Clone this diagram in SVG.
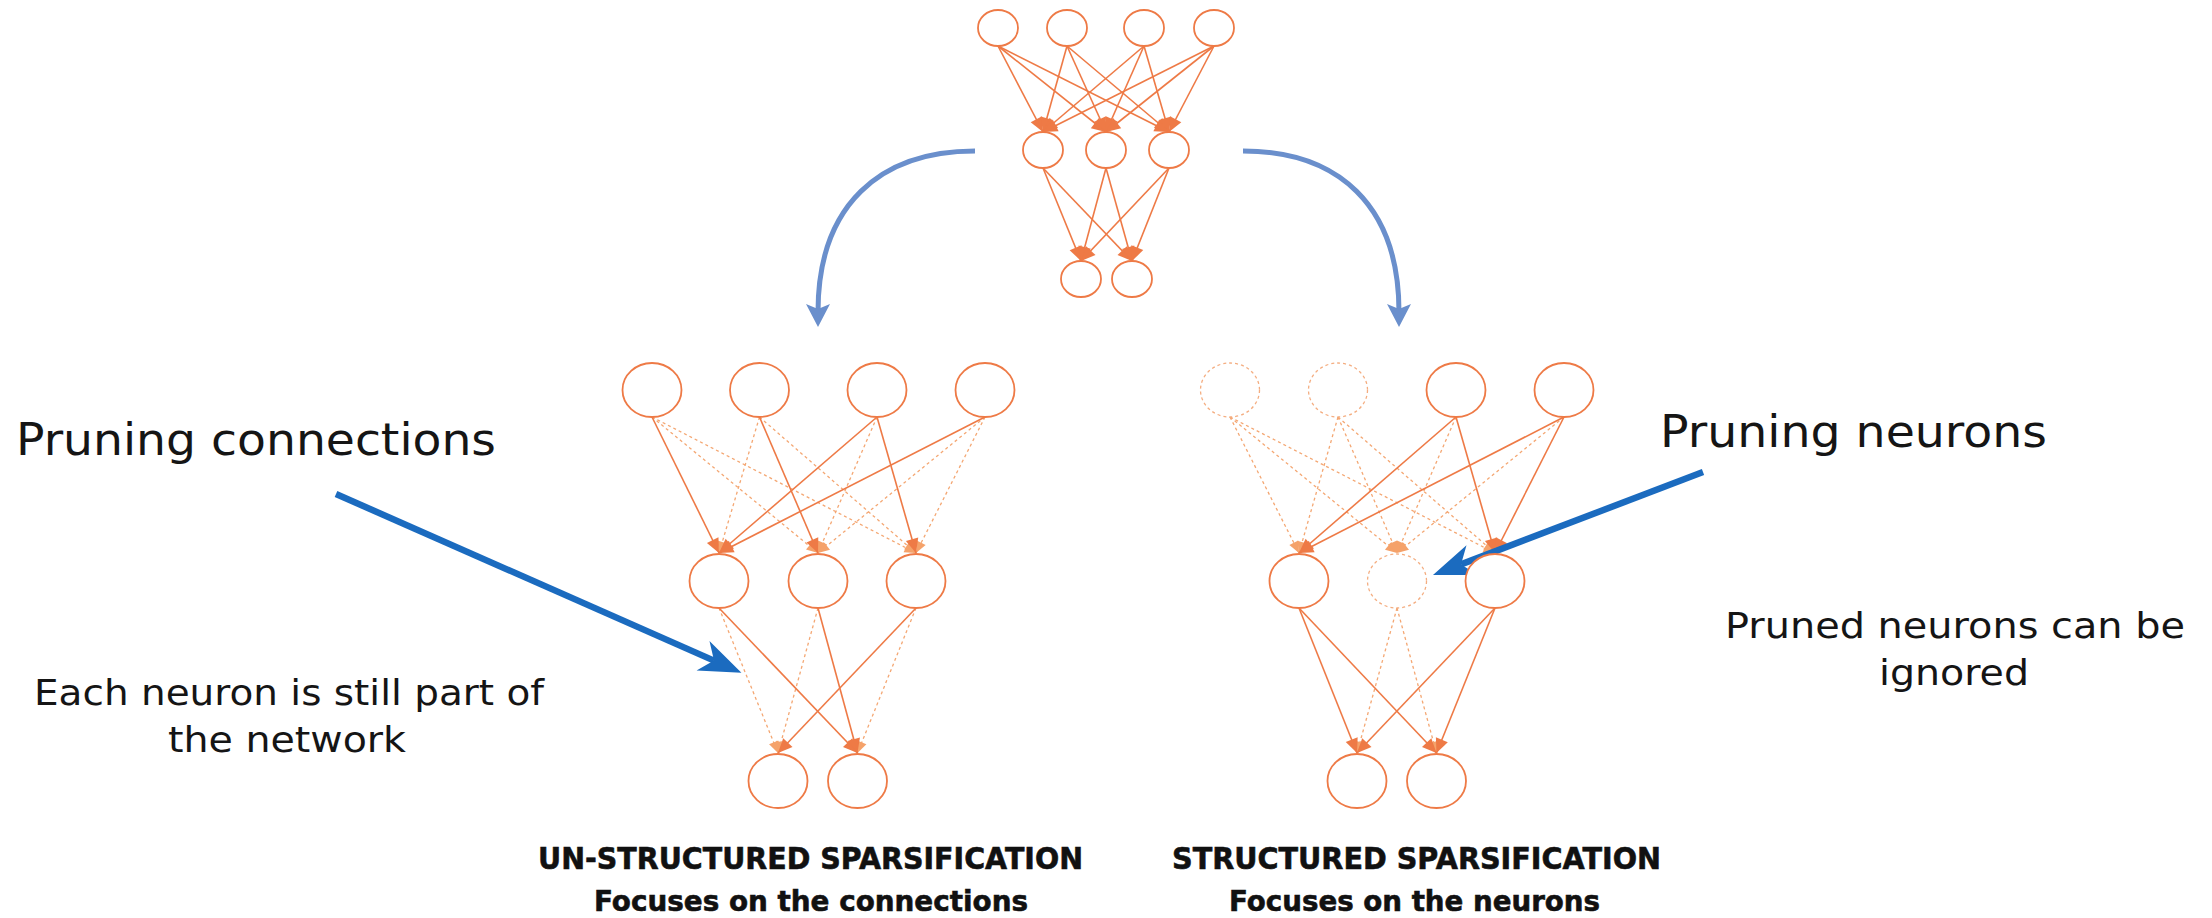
<svg xmlns="http://www.w3.org/2000/svg" width="2212" height="918" viewBox="0 0 2212 918">
<defs>
<style>
.n{fill:#fff;stroke:#ee7a46;stroke-width:1.8}
.nd{fill:#fff;stroke:#f4ad80;stroke-width:1.3;stroke-dasharray:3 3}
.e{stroke:#ee7a46;stroke-width:1.6;fill:none;marker-end:url(#ah)}
.d{stroke:#f4a773;stroke-width:1.3;stroke-dasharray:3 3;fill:none;marker-end:url(#ahd)}
.bc{stroke:#6a8fcc;stroke-width:5;fill:none;marker-end:url(#abc)}
.bs{stroke:#1b6bbf;stroke-width:6.5;fill:none;marker-end:url(#abs)}
.t{font-family:"DejaVu Sans","Open Sans",sans-serif;fill:#151515}
.cap{font-family:"DejaVu Sans","Open Sans",sans-serif;font-weight:bold;fill:#111;stroke:#111;stroke-width:0.6}
</style>
<marker id="ah" markerUnits="userSpaceOnUse" markerWidth="20" markerHeight="20" viewBox="-12 -6 14 12" refX="0" refY="0" orient="auto"><path d="M0,0 L-10,-4.5 L-10,4.5 Z" fill="#ee7a46"/></marker>
<marker id="ahd" markerUnits="userSpaceOnUse" markerWidth="20" markerHeight="20" viewBox="-12 -6 14 12" refX="0" refY="0" orient="auto"><path d="M0,0 L-8,-3.5 L-8,3.5 Z" fill="#f5a26a"/></marker>
<marker id="abc" markerUnits="userSpaceOnUse" markerWidth="40" markerHeight="40" viewBox="-20 -20 40 40" refX="0" refY="0" orient="auto"><path d="M15,0 L-8,-12 L-3,0 L-8,12 Z" fill="#6a8fcc"/></marker>
<marker id="abs" markerUnits="userSpaceOnUse" markerWidth="80" markerHeight="80" viewBox="-40 -40 80 80" refX="0" refY="0" orient="auto"><path d="M30,0 L-12,-16 L0,0 L-12,16 Z" fill="#1b6bbf"/></marker>
</defs>
<rect width="2212" height="918" fill="#fff"/>

<g id="connectors">
<!-- top network -->
<line class="e" x1="998" y1="46" x2="1043" y2="132"/>
<line class="e" x1="998" y1="46" x2="1106" y2="132"/>
<line class="e" x1="998" y1="46" x2="1169" y2="132"/>
<line class="e" x1="1067" y1="46" x2="1043" y2="132"/>
<line class="e" x1="1067" y1="46" x2="1106" y2="132"/>
<line class="e" x1="1067" y1="46" x2="1169" y2="132"/>
<line class="e" x1="1144" y1="46" x2="1043" y2="132"/>
<line class="e" x1="1144" y1="46" x2="1106" y2="132"/>
<line class="e" x1="1144" y1="46" x2="1169" y2="132"/>
<line class="e" x1="1214" y1="46" x2="1043" y2="132"/>
<line class="e" x1="1214" y1="46" x2="1106" y2="132"/>
<line class="e" x1="1214" y1="46" x2="1169" y2="132"/>
<line class="e" x1="1043" y1="168" x2="1081" y2="261"/>
<line class="e" x1="1043" y1="168" x2="1132" y2="261"/>
<line class="e" x1="1106" y1="168" x2="1081" y2="261"/>
<line class="e" x1="1106" y1="168" x2="1132" y2="261"/>
<line class="e" x1="1169" y1="168" x2="1081" y2="261"/>
<line class="e" x1="1169" y1="168" x2="1132" y2="261"/>
<!-- left network dashed -->
<line class="d" x1="652" y1="417" x2="818" y2="553"/>
<line class="d" x1="652" y1="417" x2="916" y2="553"/>
<line class="d" x1="759.5" y1="417" x2="719" y2="553"/>
<line class="d" x1="759.5" y1="417" x2="916" y2="553"/>
<line class="d" x1="877" y1="417" x2="818" y2="553"/>
<line class="d" x1="985" y1="417" x2="818" y2="553"/>
<line class="d" x1="985" y1="417" x2="916" y2="553"/>
<line class="d" x1="719" y1="608" x2="778" y2="753"/>
<line class="d" x1="818" y1="608" x2="778" y2="753"/>
<line class="d" x1="916" y1="608" x2="857.5" y2="753"/>
<!-- left network solid -->
<line class="e" x1="652" y1="417" x2="719" y2="553"/>
<line class="e" x1="759.5" y1="417" x2="818" y2="553"/>
<line class="e" x1="877" y1="417" x2="719" y2="553"/>
<line class="e" x1="877" y1="417" x2="916" y2="553"/>
<line class="e" x1="985" y1="417" x2="719" y2="553"/>
<line class="e" x1="719" y1="608" x2="857.5" y2="753"/>
<line class="e" x1="818" y1="608" x2="857.5" y2="753"/>
<line class="e" x1="916" y1="608" x2="778" y2="753"/>
<!-- right network dashed -->
<line class="d" x1="1230" y1="417" x2="1299" y2="553"/>
<line class="d" x1="1230" y1="417" x2="1397" y2="553"/>
<line class="d" x1="1230" y1="417" x2="1495" y2="553"/>
<line class="d" x1="1338" y1="417" x2="1299" y2="553"/>
<line class="d" x1="1338" y1="417" x2="1397" y2="553"/>
<line class="d" x1="1338" y1="417" x2="1495" y2="553"/>
<line class="d" x1="1456" y1="417" x2="1397" y2="553"/>
<line class="d" x1="1564" y1="417" x2="1397" y2="553"/>
<line class="d" x1="1397" y1="608" x2="1357" y2="753"/>
<line class="d" x1="1397" y1="608" x2="1436.5" y2="753"/>
<!-- right network solid -->
<line class="e" x1="1456" y1="417" x2="1299" y2="553"/>
<line class="e" x1="1456" y1="417" x2="1495" y2="553"/>
<line class="e" x1="1564" y1="417" x2="1299" y2="553"/>
<line class="e" x1="1564" y1="417" x2="1495" y2="553"/>
<line class="e" x1="1299" y1="608" x2="1357" y2="753"/>
<line class="e" x1="1299" y1="608" x2="1436.5" y2="753"/>
<line class="e" x1="1495" y1="608" x2="1357" y2="753"/>
<line class="e" x1="1495" y1="608" x2="1436.5" y2="753"/>
<!-- blue arrows -->
<path class="bc" d="M975,151 C880,151 818,205 818,312"/>
<path class="bc" d="M1243,151 C1338,151 1399,205 1399,312"/>
<path class="bs" d="M336,494 L714,660.6"/>
<path class="bs" d="M1703,472 L1461,564.4"/>
</g>

<g id="top-network">
<ellipse class="n" cx="998" cy="28" rx="20" ry="18"/>
<ellipse class="n" cx="1067" cy="28" rx="20" ry="18"/>
<ellipse class="n" cx="1144" cy="28" rx="20" ry="18"/>
<ellipse class="n" cx="1214" cy="28" rx="20" ry="18"/>
<ellipse class="n" cx="1043" cy="150" rx="20" ry="18"/>
<ellipse class="n" cx="1106" cy="150" rx="20" ry="18"/>
<ellipse class="n" cx="1169" cy="150" rx="20" ry="18"/>
<ellipse class="n" cx="1081" cy="279" rx="20" ry="18"/>
<ellipse class="n" cx="1132" cy="279" rx="20" ry="18"/>
</g>

<g id="left-network">
<ellipse class="n" cx="652" cy="390" rx="29.5" ry="27"/>
<ellipse class="n" cx="759.5" cy="390" rx="29.5" ry="27"/>
<ellipse class="n" cx="877" cy="390" rx="29.5" ry="27"/>
<ellipse class="n" cx="985" cy="390" rx="29.5" ry="27"/>
<ellipse class="n" cx="719" cy="581" rx="29.5" ry="27"/>
<ellipse class="n" cx="818" cy="581" rx="29.5" ry="27"/>
<ellipse class="n" cx="916" cy="581" rx="29.5" ry="27"/>
<ellipse class="n" cx="778" cy="781" rx="29.5" ry="27"/>
<ellipse class="n" cx="857.5" cy="781" rx="29.5" ry="27"/>
</g>

<g id="right-network">
<ellipse class="nd" cx="1230" cy="390" rx="29.5" ry="27"/>
<ellipse class="nd" cx="1338" cy="390" rx="29.5" ry="27"/>
<ellipse class="n" cx="1456" cy="390" rx="29.5" ry="27"/>
<ellipse class="n" cx="1564" cy="390" rx="29.5" ry="27"/>
<ellipse class="n" cx="1299" cy="581" rx="29.5" ry="27"/>
<ellipse class="nd" cx="1397" cy="581" rx="29.5" ry="27"/>
<ellipse class="n" cx="1495" cy="581" rx="29.5" ry="27"/>
<ellipse class="n" cx="1357" cy="781" rx="29.5" ry="27"/>
<ellipse class="n" cx="1436.5" cy="781" rx="29.5" ry="27"/>
</g>

<g id="label-pruning-connections">
<text class="t" x="16" y="455" font-size="44" textLength="480" lengthAdjust="spacingAndGlyphs">Pruning connections</text>
</g>
<g id="label-pruning-neurons">
<text class="t" x="1660" y="447" font-size="44" textLength="387" lengthAdjust="spacingAndGlyphs">Pruning neurons</text>
</g>
<g id="note-left">
<text class="t" x="289" y="705" font-size="35" text-anchor="middle" textLength="510" lengthAdjust="spacingAndGlyphs">Each neuron is still part of</text>
<text class="t" x="287" y="752" font-size="35" text-anchor="middle" textLength="238" lengthAdjust="spacingAndGlyphs">the network</text>
</g>
<g id="note-right">
<text class="t" x="1955" y="638" font-size="35" text-anchor="middle" textLength="460" lengthAdjust="spacingAndGlyphs">Pruned neurons can be</text>
<text class="t" x="1954" y="685" font-size="35" text-anchor="middle" textLength="150" lengthAdjust="spacingAndGlyphs">ignored</text>
</g>
<g id="caption-left">
<text class="cap" x="538" y="869" font-size="30" textLength="545" lengthAdjust="spacingAndGlyphs">UN-STRUCTURED SPARSIFICATION</text>
<text class="cap" x="594" y="911" font-size="28" textLength="434" lengthAdjust="spacingAndGlyphs">Focuses on the connections</text>
</g>
<g id="caption-right">
<text class="cap" x="1172" y="869" font-size="30" textLength="489" lengthAdjust="spacingAndGlyphs">STRUCTURED SPARSIFICATION</text>
<text class="cap" x="1229" y="911" font-size="28" textLength="371" lengthAdjust="spacingAndGlyphs">Focuses on the neurons</text>
</g>
</svg>
